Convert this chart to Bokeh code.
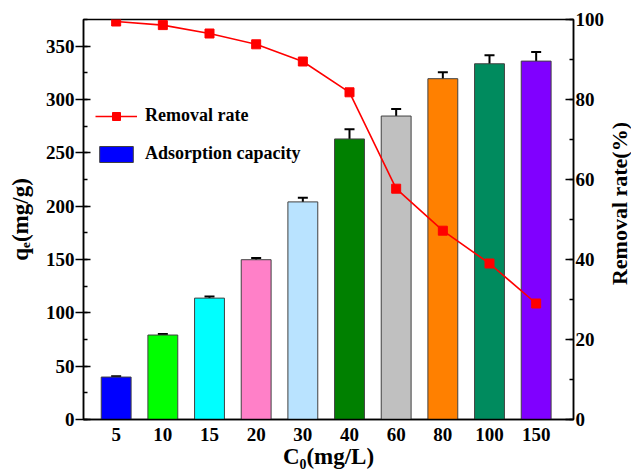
import math
import numpy as np
from bokeh.plotting import figure
from bokeh.layouts import row
from bokeh.models import (ColumnDataSource, LinearAxis, Range1d, SingleIntervalTicker,
                          FixedTicker, Whisker, TeeHead, Legend, LegendItem)
from bokeh.core.properties import value
from bokeh.embed import file_html
from bokeh.resources import INLINE

# ---- data ----
concentrations = ["5", "10", "15", "20", "30", "40", "60", "80", "100", "150"]
capacity = [39.8, 79.2, 113.8, 149.8, 204.0, 263.0, 284.5, 319.5, 333.5, 336.0]
capacity_err = [0.8, 1.0, 1.5, 1.5, 4.0, 9.0, 6.5, 6.0, 8.0, 8.5]
removal = [99.5, 98.6, 96.5, 93.8, 89.5, 81.8, 57.7, 47.2, 39.0, 29.0]
bar_colors = ["#0000FF", "#00FF00", "#00FFFF", "#FF80C8", "#B9E3FF",
              "#008000", "#C0C0C0", "#FF8000", "#008B5E", "#8000FF"]
right_title_text = "Removal rate(%)"

FONT = "Liberation Serif"

xpos = list(range(1, len(concentrations) + 1))
cap = np.array(capacity)
err = np.array(capacity_err)
src = ColumnDataSource(dict(x=xpos, cap=capacity, upper=list(cap + err), lower=list(cap - err),
                            rate=removal, color=bar_colors))

p = figure(width=607, height=476, x_range=Range1d(0.3, 10.8), y_range=Range1d(0, 375),
           output_backend="svg", toolbar_location=None,
           min_border_left=83, min_border_right=28, min_border_top=19, min_border_bottom=57)
p.extra_y_ranges = {"rate": Range1d(0, 100)}
p.xgrid.visible = False
p.ygrid.visible = False
p.outline_line_color = "black"
p.outline_line_width = 1.5
p.background_fill_color = "white"
p.border_fill_color = "white"

bars = p.vbar(x="x", top="cap", width=0.64, bottom=0, source=src, fill_color="color",
              line_color="#404040", line_width=1)
whisk = Whisker(base="x", upper="upper", lower="lower", source=src, line_color="black", line_width=2,
                upper_head=TeeHead(size=10, line_width=2, line_color="black"),
                lower_head=TeeHead(size=10, line_width=2, line_color="black"))
p.add_layout(whisk)

ln = p.line(x="x", y="rate", source=src, y_range_name="rate", line_color="#FF0000", line_width=1.6)
mk = p.scatter(x="x", y="rate", source=src, y_range_name="rate", marker="square", size=9,
               fill_color="#FF0000", line_color="#FF0000")


def style_axis(ax, label_size="19px", title_size="23px"):
    ax.axis_label_text_font = FONT
    ax.axis_label_text_font_style = "bold"
    ax.axis_label_text_font_size = title_size
    ax.axis_label_text_color = "black"
    ax.major_label_text_font = FONT
    ax.major_label_text_font_style = "bold"
    ax.major_label_text_font_size = label_size
    ax.major_label_text_color = "black"
    ax.axis_line_color = "black"
    ax.major_tick_line_color = "black"
    ax.minor_tick_line_color = "black"
    ax.axis_line_width = 1.5
    ax.major_tick_line_width = 1.5
    ax.minor_tick_line_width = 1.5


# left axis
ya = p.yaxis[0]
ya.ticker = SingleIntervalTicker(interval=50, num_minor_ticks=2)
ya.axis_label = "qₑ(mg/g)"
style_axis(ya)
ya.axis_label_standoff = 10
ya.major_label_standoff = 1
ya.major_tick_in = 7
ya.major_tick_out = 8
ya.minor_tick_in = 4
ya.minor_tick_out = 0

# right axis (its title is drawn in a narrow strip next to the plot, reading bottom-to-top)
ra = LinearAxis(y_range_name="rate", ticker=SingleIntervalTicker(interval=20, num_minor_ticks=2))
style_axis(ra)
ra.major_label_standoff = 2
ra.major_tick_in = 8
ra.major_tick_out = 0
ra.minor_tick_in = 4
ra.minor_tick_out = 0
p.add_layout(ra, "right")

# bottom axis
xa = p.xaxis[0]
xa.ticker = FixedTicker(ticks=xpos)
xa.major_label_overrides = {i: c for i, c in zip(xpos, concentrations)}
xa.axis_label = "C₀(mg/L)"
style_axis(xa)
xa.axis_label_standoff = 0
xa.major_label_standoff = 8
xa.major_tick_in = 0
xa.major_tick_out = 0
xa.minor_tick_in = 0
xa.minor_tick_out = 0

legend = Legend(items=[LegendItem(label="Removal rate", renderers=[ln, mk]),
                       LegendItem(label="Adsorption capacity", renderers=[bars], index=0)],
                location=(12, 255), orientation="vertical")
legend.border_line_color = None
legend.background_fill_alpha = 0
legend.padding = 0
legend.margin = 0
legend.spacing = 17
legend.glyph_width = 42
legend.glyph_height = 20
legend.label_text_font = FONT
legend.label_text_font_style = "bold"
legend.label_text_font_size = "18px"
legend.label_text_color = "black"
legend.label_standoff = 8
p.add_layout(legend)

# narrow strip holding the right-axis title
STRIP_W, H = 24, 476
tf = figure(width=STRIP_W, height=H, x_range=Range1d(0, STRIP_W), y_range=Range1d(0, H),
            output_backend="svg", toolbar_location=None,
            x_axis_location=None, y_axis_location=None,
            min_border_left=0, min_border_right=0, min_border_top=0, min_border_bottom=0)
tf.xgrid.visible = False
tf.ygrid.visible = False
tf.outline_line_color = None
tf.background_fill_color = "white"
tf.border_fill_color = "white"
tsrc = ColumnDataSource(dict(x=[STRIP_W / 2], y=[H - 219], t=[right_title_text]))
tf.text(x="x", y="y", text="t", source=tsrc, angle=math.pi / 2, text_align="center",
        text_baseline="middle", text_font=value(FONT), text_font_style="bold",
        text_font_size="22px", text_color="black")

layout = row(p, tf, spacing=0)
open("out.html", "w").write(file_html(layout, INLINE))
